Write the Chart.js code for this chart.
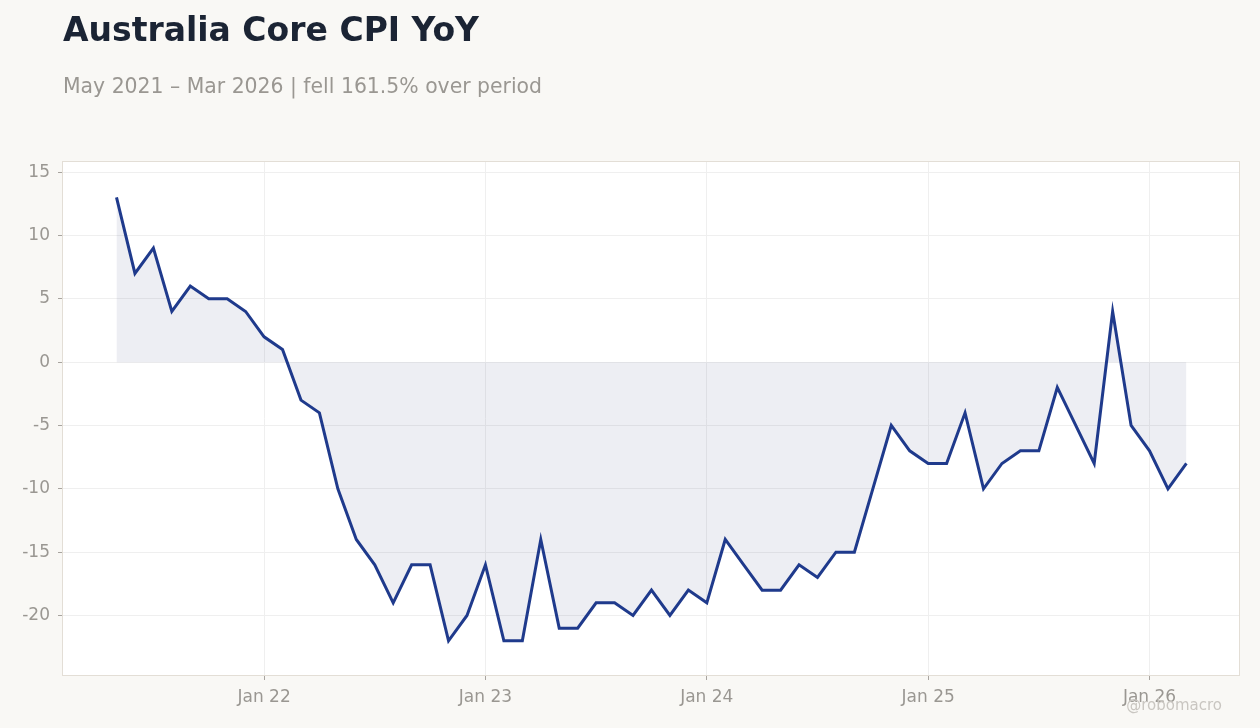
<!DOCTYPE html>
<html lang="en">
<head>
  <meta charset="UTF-8" />
  <title>Australia Core CPI YoY</title>
  <script src="https://cdn.jsdelivr.net/npm/chart.js"></script>
  <style>
    body {
      margin: 0;
      background: #f9f8f5;
      font-family: 'DejaVu Sans', sans-serif;
    }
    .wrap {
      position: relative;
      width: 1260px;
      height: 728px;
    }
    .title {
      position: absolute;
      left: 63px;
      top: 13px;
      font-size: 33px;
      line-height: 33px;
      font-weight: bold;
      color: #1b2434;
    }
    .subtitle {
      position: absolute;
      left: 63px;
      top: 76px;
      font-size: 20.4px;
      line-height: 20px;
      color: #9a9792;
    }
    .credit {
      position: absolute;
      right: 38px;
      top: 698px;
      font-size: 15px;
      line-height: 15px;
      color: #c9c6c1;
    }
    canvas {
      position: absolute;
      left: 0;
      top: 0;
    }
  </style>
</head>
<body>
  <div class="wrap">
    <canvas id="cpiChart" width="1260" height="728"></canvas>
    <div class="title">Australia Core CPI YoY</div>
    <div class="subtitle">May 2021 – Mar 2026 | fell 161.5% over period</div>
    <div class="credit">@robomacro</div>
  </div>

  <script>
    // monthly, May 2021 .. Mar 2026
    const months = [
      'May 21', 'Jun 21', 'Jul 21', 'Aug 21', 'Sep 21', 'Oct 21', 'Nov 21', 'Dec 21',
      'Jan 22', 'Feb 22', 'Mar 22', 'Apr 22', 'May 22', 'Jun 22', 'Jul 22', 'Aug 22', 'Sep 22', 'Oct 22', 'Nov 22', 'Dec 22',
      'Jan 23', 'Feb 23', 'Mar 23', 'Apr 23', 'May 23', 'Jun 23', 'Jul 23', 'Aug 23', 'Sep 23', 'Oct 23', 'Nov 23', 'Dec 23',
      'Jan 24', 'Feb 24', 'Mar 24', 'Apr 24', 'May 24', 'Jun 24', 'Jul 24', 'Aug 24', 'Sep 24', 'Oct 24', 'Nov 24', 'Dec 24',
      'Jan 25', 'Feb 25', 'Mar 25', 'Apr 25', 'May 25', 'Jun 25', 'Jul 25', 'Aug 25', 'Sep 25', 'Oct 25', 'Nov 25', 'Dec 25',
      'Jan 26', 'Feb 26', 'Mar 26'
    ];
    const cpiYoY = [
      13, 7, 9, 4, 6, 5, 5, 4,
      2, 1, -3, -4, -10, -14, -16, -19, -16, -16, -22, -20,
      -16, -22, -22, -14, -21, -21, -19, -19, -20, -18, -20, -18,
      -19, -14, -16, -18, -18, -16, -17, -15, -15, -10, -5, -7,
      -8, -8, -4, -10, -8, -7, -7, -2, -5, -8, 4, -5,
      -7, -10, -8
    ];
    const xTickLabels = ['Jan 22', 'Jan 23', 'Jan 24', 'Jan 25', 'Jan 26'];
    const yTicks = [-20, -15, -10, -5, 0, 5, 10, 15];

    const lineColor = '#1f3a8c';
    const tickColor = '#9a9792';
    const gridColor = '#efefef';

    const xTickIdx = xTickLabels.map(l => months.indexOf(l));
    const points = cpiYoY.map((v, i) => ({ x: i, y: v }));

    // white plot background + thin frame
    const plotFrame = {
      id: 'plotFrame',
      beforeDraw(chart) {
        const a = chart.chartArea, ctx = chart.ctx;
        ctx.save();
        ctx.fillStyle = '#ffffff';
        ctx.fillRect(a.left, a.top, a.right - a.left, a.bottom - a.top);
        ctx.restore();
      },
      afterDraw(chart) {
        const a = chart.chartArea, ctx = chart.ctx;
        ctx.save();
        ctx.strokeStyle = '#e3ded6';
        ctx.lineWidth = 1;
        ctx.strokeRect(a.left - 0.5, a.top - 0.5, a.right - a.left + 1, a.bottom - a.top + 1);
        ctx.restore();
      }
    };

    new Chart(document.getElementById('cpiChart'), {
      type: 'line',
      data: {
        datasets: [{
          label: 'Core CPI YoY',
          data: points,
          borderColor: lineColor,
          borderWidth: 3,
          backgroundColor: 'rgba(30, 40, 100, 0.08)',
          fill: 'origin',
          pointRadius: 0,
          tension: 0
        }]
      },
      options: {
        responsive: false,
        animation: false,
        layout: { padding: { top: 162, right: 21, left: 0, bottom: 0 } },
        plugins: {
          legend: { display: false },
          tooltip: { enabled: false }
        },
        scales: {
          x: {
            type: 'linear',
            min: -2.9,
            max: 60.85,
            afterBuildTicks: s => { s.ticks = xTickIdx.map(v => ({ value: v })); },
            afterFit: s => { s.height = 53; },
            ticks: {
              color: tickColor,
              font: { family: 'DejaVu Sans', size: 17 },
              padding: 7,
              maxRotation: 0,
              autoSkip: false,
              callback: v => xTickLabels[xTickIdx.indexOf(v)]
            },
            grid: { color: gridColor, tickColor: '#a8a49f', tickLength: 5 },
            border: { display: false }
          },
          y: {
            min: -24.7,
            max: 15.8,
            afterBuildTicks: s => { s.ticks = yTicks.map(v => ({ value: v })); },
            afterFit: s => { s.width = 63; },
            ticks: {
              color: tickColor,
              font: { family: 'DejaVu Sans', size: 17 },
              padding: 8
            },
            grid: { color: gridColor, tickColor: '#a8a49f', tickLength: 5 },
            border: { display: false }
          }
        }
      },
      plugins: [plotFrame]
    });
  </script>
</body>
</html>
